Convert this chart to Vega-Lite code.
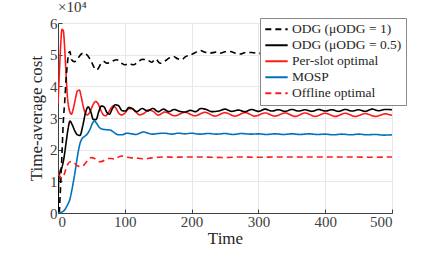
{
  "$schema": "https://vega.github.io/schema/vega-lite/v6.json",
  "width": 334,
  "height": 190,
  "autosize": "none",
  "padding": {"left": 58, "top": 23, "right": 42, "bottom": 43},
  "background": "white",
  "title": {"text": "×10⁴", "anchor": "start", "frame": "group", "font": "Liberation Serif", "fontSize": 15, "fontWeight": "normal", "color": "#333333", "offset": 1},
  "config": {
    "font": "Liberation Serif",
    "view": {"stroke": "#404040", "strokeWidth": 1},
    "axis": {"labelFont": "Liberation Serif", "titleFont": "Liberation Serif", "labelFontSize": 15, "labelFontWeight": "normal", "titleFontSize": 17, "titleFontWeight": "normal", "labelColor": "#404040", "titleColor": "#262626", "domainColor": "#404040", "tickColor": "#404040", "gridColor": "#e8e8e8", "tickSize": -4, "labelPadding": 5},
    "legend": {"labelFont": "Liberation Serif", "labelFontSize": 13.5, "labelFontWeight": "normal"}
  },
  "data": {"values": [
    {"s":"P","t":0,"v":34500},{"s":"P","t":2,"v":44000},{"s":"P","t":4,"v":53000},{"s":"P","t":6,"v":58000},{"s":"P","t":8,"v":57500},{"s":"P","t":10,"v":52000},{"s":"P","t":12,"v":44000},{"s":"P","t":14,"v":37000},{"s":"P","t":17,"v":32500},{"s":"P","t":20,"v":31200},{"s":"P","t":23,"v":33000},{"s":"P","t":26,"v":36000},{"s":"P","t":29,"v":38500},{"s":"P","t":32,"v":38800},{"s":"P","t":35,"v":36500},{"s":"P","t":38,"v":33500},{"s":"P","t":41,"v":31500},{"s":"P","t":44,"v":31000},{"s":"P","t":48,"v":32000},{"s":"P","t":52,"v":34000},{"s":"P","t":56,"v":35200},{"s":"P","t":60,"v":34500},{"s":"P","t":64,"v":32500},{"s":"P","t":68,"v":31000},{"s":"P","t":71,"v":30700},{"s":"P","t":75,"v":31500},{"s":"P","t":79,"v":33000},{"s":"P","t":83,"v":33800},{"s":"P","t":87,"v":33000},{"s":"P","t":91,"v":31500},{"s":"P","t":95,"v":31000},{"s":"P","t":100,"v":31500},{"s":"P","t":105,"v":32800},{"s":"P","t":110,"v":33000},{"s":"P","t":116,"v":32000},{"s":"P","t":122,"v":31000},{"s":"P","t":129,"v":31500},{"s":"P","t":136,"v":32600},{"s":"P","t":143,"v":32000},{"s":"P","t":150,"v":30900},{"s":"P","t":160,"v":31900},{"s":"P","t":175,"v":30700},{"s":"P","t":190,"v":31800},{"s":"P","t":205,"v":30700},{"s":"P","t":220,"v":31800},{"s":"P","t":235,"v":30600},{"s":"P","t":250,"v":31700},{"s":"P","t":265,"v":30600},{"s":"P","t":280,"v":31700},{"s":"P","t":295,"v":30600},{"s":"P","t":310,"v":31600},{"s":"P","t":325,"v":30600},{"s":"P","t":340,"v":31600},{"s":"P","t":355,"v":30500},{"s":"P","t":370,"v":31600},{"s":"P","t":385,"v":30500},{"s":"P","t":400,"v":31500},{"s":"P","t":415,"v":30500},{"s":"P","t":430,"v":31500},{"s":"P","t":445,"v":30500},{"s":"P","t":460,"v":31400},{"s":"P","t":475,"v":30500},{"s":"P","t":490,"v":31300},{"s":"P","t":500,"v":30800},

    {"s":"B","t":0,"v":0},{"s":"B","t":1,"v":10000},{"s":"B","t":3,"v":13000},{"s":"B","t":6,"v":14500},{"s":"B","t":9,"v":17500},{"s":"B","t":12,"v":22000},{"s":"B","t":15,"v":26500},{"s":"B","t":18,"v":29000},{"s":"B","t":21,"v":28000},{"s":"B","t":25,"v":26000},{"s":"B","t":29,"v":24700},{"s":"B","t":33,"v":24500},{"s":"B","t":37,"v":27500},{"s":"B","t":41,"v":31500},{"s":"B","t":45,"v":33500},{"s":"B","t":49,"v":32000},{"s":"B","t":53,"v":29500},{"s":"B","t":57,"v":29500},{"s":"B","t":61,"v":32000},{"s":"B","t":65,"v":33800},{"s":"B","t":69,"v":33500},{"s":"B","t":73,"v":31800},{"s":"B","t":77,"v":31200},{"s":"B","t":81,"v":32800},{"s":"B","t":86,"v":34200},{"s":"B","t":91,"v":33800},{"s":"B","t":96,"v":32300},{"s":"B","t":101,"v":32200},{"s":"B","t":106,"v":33300},{"s":"B","t":111,"v":33000},{"s":"B","t":118,"v":32000},{"s":"B","t":126,"v":33000},{"s":"B","t":134,"v":32200},{"s":"B","t":142,"v":33000},{"s":"B","t":150,"v":32000},{"s":"B","t":158,"v":32800},{"s":"B","t":166,"v":32000},{"s":"B","t":174,"v":32700},{"s":"B","t":182,"v":32100},{"s":"B","t":190,"v":31900},{"s":"B","t":198,"v":32400},{"s":"B","t":206,"v":32000},{"s":"B","t":214,"v":33000},{"s":"B","t":222,"v":32700},{"s":"B","t":230,"v":32000},{"s":"B","t":240,"v":32200},{"s":"B","t":250,"v":32800},{"s":"B","t":260,"v":32100},{"s":"B","t":270,"v":32500},{"s":"B","t":280,"v":32000},{"s":"B","t":290,"v":32700},{"s":"B","t":300,"v":32100},{"s":"B","t":310,"v":32800},{"s":"B","t":320,"v":32200},{"s":"B","t":330,"v":32600},{"s":"B","t":340,"v":32100},{"s":"B","t":350,"v":32700},{"s":"B","t":360,"v":32200},{"s":"B","t":370,"v":32600},{"s":"B","t":380,"v":32100},{"s":"B","t":390,"v":32700},{"s":"B","t":400,"v":32200},{"s":"B","t":410,"v":32600},{"s":"B","t":420,"v":32100},{"s":"B","t":430,"v":32700},{"s":"B","t":440,"v":32200},{"s":"B","t":450,"v":32600},{"s":"B","t":460,"v":32100},{"s":"B","t":470,"v":32800},{"s":"B","t":480,"v":32300},{"s":"B","t":490,"v":32700},{"s":"B","t":500,"v":32600},

    {"s":"D","t":2,"v":0},{"s":"D","t":4,"v":9000},{"s":"D","t":6,"v":19000},{"s":"D","t":8,"v":29000},{"s":"D","t":10,"v":35000},{"s":"D","t":12,"v":42000},{"s":"D","t":14,"v":47000},{"s":"D","t":16,"v":50500},{"s":"D","t":18,"v":51000},{"s":"D","t":20,"v":48500},{"s":"D","t":25,"v":47800},{"s":"D","t":30,"v":48900},{"s":"D","t":34,"v":50000},{"s":"D","t":38,"v":50500},{"s":"D","t":43,"v":50000},{"s":"D","t":50,"v":47800},{"s":"D","t":54,"v":46000},{"s":"D","t":58,"v":45200},{"s":"D","t":65,"v":47300},{"s":"D","t":69,"v":47800},{"s":"D","t":73,"v":47300},{"s":"D","t":80,"v":47800},{"s":"D","t":88,"v":48400},{"s":"D","t":95,"v":47300},{"s":"D","t":100,"v":46800},{"s":"D","t":106,"v":47200},{"s":"D","t":113,"v":46800},{"s":"D","t":120,"v":47800},{"s":"D","t":126,"v":48500},{"s":"D","t":133,"v":48400},{"s":"D","t":140,"v":47600},{"s":"D","t":146,"v":48600},{"s":"D","t":153,"v":47300},{"s":"D","t":160,"v":48000},{"s":"D","t":167,"v":49000},{"s":"D","t":173,"v":49400},{"s":"D","t":179,"v":48700},{"s":"D","t":185,"v":48400},{"s":"D","t":191,"v":49400},{"s":"D","t":198,"v":49900},{"s":"D","t":205,"v":50600},{"s":"D","t":213,"v":51300},{"s":"D","t":220,"v":50800},{"s":"D","t":228,"v":50500},{"s":"D","t":236,"v":50800},{"s":"D","t":243,"v":50500},{"s":"D","t":250,"v":50900},{"s":"D","t":258,"v":51000},{"s":"D","t":266,"v":50400},{"s":"D","t":273,"v":50200},{"s":"D","t":281,"v":50700},{"s":"D","t":290,"v":50700},{"s":"D","t":300,"v":50400},{"s":"D","t":320,"v":50600},{"s":"D","t":340,"v":50400},{"s":"D","t":360,"v":50600},{"s":"D","t":380,"v":50400},{"s":"D","t":400,"v":50600},{"s":"D","t":420,"v":50400},{"s":"D","t":440,"v":50600},{"s":"D","t":460,"v":50400},{"s":"D","t":480,"v":50600},{"s":"D","t":500,"v":50500},

    {"s":"M","t":0,"v":0},{"s":"M","t":5,"v":200},{"s":"M","t":10,"v":1000},{"s":"M","t":14,"v":2500},{"s":"M","t":18,"v":4500},{"s":"M","t":21,"v":7500},{"s":"M","t":24,"v":11000},{"s":"M","t":27,"v":15000},{"s":"M","t":30,"v":19000},{"s":"M","t":33,"v":22000},{"s":"M","t":36,"v":23500},{"s":"M","t":40,"v":24200},{"s":"M","t":44,"v":25000},{"s":"M","t":48,"v":26500},{"s":"M","t":52,"v":28500},{"s":"M","t":55,"v":29000},{"s":"M","t":58,"v":28200},{"s":"M","t":62,"v":27000},{"s":"M","t":66,"v":26500},{"s":"M","t":72,"v":26300},{"s":"M","t":78,"v":26200},{"s":"M","t":84,"v":25400},{"s":"M","t":90,"v":24700},{"s":"M","t":96,"v":24700},{"s":"M","t":103,"v":25200},{"s":"M","t":110,"v":25000},{"s":"M","t":117,"v":24800},{"s":"M","t":122,"v":25200},{"s":"M","t":128,"v":25600},{"s":"M","t":135,"v":25200},{"s":"M","t":142,"v":24900},{"s":"M","t":150,"v":25100},{"s":"M","t":160,"v":25200},{"s":"M","t":170,"v":24900},{"s":"M","t":180,"v":25200},{"s":"M","t":190,"v":25000},{"s":"M","t":200,"v":25200},{"s":"M","t":212,"v":24900},{"s":"M","t":225,"v":25100},{"s":"M","t":238,"v":24900},{"s":"M","t":250,"v":25100},{"s":"M","t":262,"v":24800},{"s":"M","t":275,"v":25100},{"s":"M","t":288,"v":24900},{"s":"M","t":300,"v":25000},{"s":"M","t":312,"v":24800},{"s":"M","t":325,"v":25000},{"s":"M","t":338,"v":24800},{"s":"M","t":350,"v":25000},{"s":"M","t":362,"v":24800},{"s":"M","t":375,"v":25000},{"s":"M","t":388,"v":24800},{"s":"M","t":400,"v":24900},{"s":"M","t":412,"v":24700},{"s":"M","t":425,"v":24900},{"s":"M","t":438,"v":24700},{"s":"M","t":450,"v":24900},{"s":"M","t":462,"v":24700},{"s":"M","t":475,"v":24800},{"s":"M","t":488,"v":24600},{"s":"M","t":500,"v":24700},

    {"s":"O","t":0,"v":12500},{"s":"O","t":3,"v":11500},{"s":"O","t":6,"v":11000},{"s":"O","t":9,"v":12000},{"s":"O","t":12,"v":14000},{"s":"O","t":15,"v":15500},{"s":"O","t":18,"v":16200},{"s":"O","t":22,"v":16200},{"s":"O","t":26,"v":15500},{"s":"O","t":30,"v":14800},{"s":"O","t":34,"v":14700},{"s":"O","t":38,"v":15000},{"s":"O","t":42,"v":16000},{"s":"O","t":46,"v":17000},{"s":"O","t":50,"v":17500},{"s":"O","t":54,"v":17300},{"s":"O","t":58,"v":16700},{"s":"O","t":62,"v":16200},{"s":"O","t":66,"v":16300},{"s":"O","t":70,"v":16800},{"s":"O","t":75,"v":17200},{"s":"O","t":80,"v":17200},{"s":"O","t":85,"v":17000},{"s":"O","t":90,"v":17600},{"s":"O","t":95,"v":18000},{"s":"O","t":100,"v":17900},{"s":"O","t":105,"v":17600},{"s":"O","t":110,"v":17400},{"s":"O","t":115,"v":17400},{"s":"O","t":120,"v":17300},{"s":"O","t":130,"v":17100},{"s":"O","t":140,"v":17400},{"s":"O","t":150,"v":17600},{"s":"O","t":160,"v":17700},{"s":"O","t":175,"v":17600},{"s":"O","t":190,"v":17700},{"s":"O","t":210,"v":17700},{"s":"O","t":230,"v":17600},{"s":"O","t":250,"v":17500},{"s":"O","t":270,"v":17700},{"s":"O","t":300,"v":17600},{"s":"O","t":330,"v":17700},{"s":"O","t":360,"v":17700},{"s":"O","t":400,"v":17700},{"s":"O","t":440,"v":17700},{"s":"O","t":470,"v":17600},{"s":"O","t":500,"v":17700}
  ]},
  "transform": [
    {"lookup": "s", "from": {"data": {"values": [
      {"s":"D","name":"ODG (μODG = 1)","k":1},
      {"s":"B","name":"ODG (μODG = 0.5)","k":2},
      {"s":"P","name":"Per-slot optimal","k":3},
      {"s":"M","name":"MOSP","k":4},
      {"s":"O","name":"Offline optimal","k":5}
    ]}, "key": "s", "fields": ["name", "k"]}}
  ],
  "mark": {"type": "line", "strokeWidth": 1.6, "interpolate": "monotone", "clip": true},
  "encoding": {
    "x": {"field": "t", "type": "quantitative", "scale": {"domain": [0, 500], "nice": false}, "axis": {"title": "Time", "values": [0,100,200,300,400,500], "titlePadding": 1}},
    "y": {"field": "v", "type": "quantitative", "scale": {"domain": [0, 60000], "nice": false}, "axis": {"title": "Time-average cost", "values": [0,10000,20000,30000,40000,50000,60000], "labelExpr": "datum.value / 10000", "titlePadding": 4}},
    "order": {"field": "t", "type": "quantitative"},
    "color": {"field": "name", "type": "nominal",
      "scale": {"domain": ["ODG (μODG = 1)", "ODG (μODG = 0.5)", "Per-slot optimal", "MOSP", "Offline optimal"], "range": ["#000000", "#000000", "#ff1a1a", "#0072bd", "#ff1a1a"]},
      "legend": {"title": null, "orient": "none", "legendX": 202, "legendY": -5, "symbolType": "stroke", "symbolSize": 500, "symbolStrokeWidth": 1.8, "labelColor": "#262626", "labelOffset": 3, "fillColor": "white", "strokeColor": "#888888", "padding": 4, "rowPadding": 1, "clipHeight": 14.5}},
    "strokeDash": {"field": "name", "type": "nominal",
      "scale": {"domain": ["ODG (μODG = 1)", "ODG (μODG = 0.5)", "Per-slot optimal", "MOSP", "Offline optimal"], "range": [[6,4],[1,0],[1,0],[1,0],[6,4]]},
      "legend": null}
  }
}
